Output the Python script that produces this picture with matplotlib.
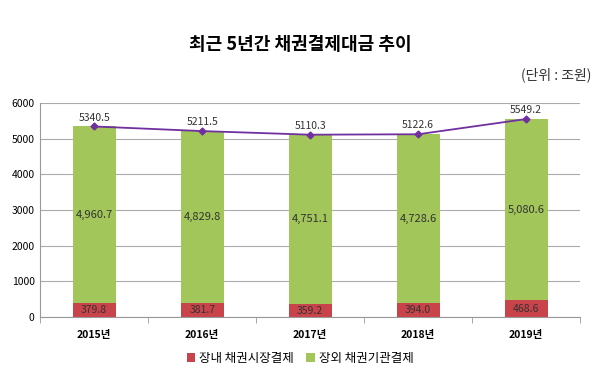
import matplotlib.pyplot as plt
import numpy as np

plt.rcParams['font.family'] = ['Noto Sans CJK KR', 'DejaVu Sans']

years = ["2015년", "2016년", "2017년", "2018년", "2019년"]
on_market = [379.8, 381.7, 359.2, 394.0, 468.6]
off_market = [4960.7, 4829.8, 4751.1, 4728.6, 5080.6]
totals = [5340.5, 5211.5, 5110.3, 5122.6, 5549.2]

RED = "#C9444A"
GREEN = "#A2C65A"
PURPLE = "#7030A0"

fig = plt.figure(figsize=(6.0, 3.73), dpi=100)
ax = fig.add_axes([0.067, 0.150, 0.900, 0.574])

x = np.arange(len(years))
w = 0.4
ax.bar(x, on_market, width=w, color=RED, label="장내 채권시장결제", zorder=2)
ax.bar(x, off_market, width=w, bottom=on_market, color=GREEN, label="장외 채권기관결제", zorder=2)
ax.plot(x, totals, color=PURPLE, lw=1.3, marker="D", ms=3.5, zorder=3)

for i in range(len(years)):
    ax.text(x[i], on_market[i] / 2, f"{on_market[i]:,.1f}", ha="center", va="center",
            fontsize=7.5, color="#333333", zorder=4)
    ax.text(x[i], on_market[i] + off_market[i] / 2, f"{off_market[i]:,.1f}", ha="center",
            va="center", fontsize=8, color="#333333", zorder=4)
    ax.text(x[i], totals[i] + 110, f"{totals[i]:.1f}", ha="center", va="bottom",
            fontsize=7.5, color="#333333", zorder=4)

ax.set_xlim(-0.5, 4.5)
ax.set_ylim(0, 6000)
ax.set_yticks(range(0, 6001, 1000))
ax.tick_params(axis="y", labelsize=7.5, length=0, pad=4)
ax.set_xticks(x)
ax.set_xticklabels(years, fontsize=7.5, fontweight="bold")
ax.tick_params(axis="x", length=0, pad=9)
ax.set_xticks(np.arange(-0.5, 5.0, 1.0), minor=True)
ax.tick_params(axis="x", which="minor", length=4, color="#999999")
ax.grid(axis="y", color="#AAAAAA", lw=0.8, zorder=0)
for s in ["top", "right"]:
    ax.spines[s].set_visible(False)
ax.spines["left"].set_color("#999999")
ax.spines["bottom"].set_color("#999999")

fig.text(0.50, 0.88, "최근 5년간 채권결제대금 추이", ha="center", va="center",
         fontsize=13, fontweight="bold")
fig.text(0.985, 0.80, "(단위 : 조원)", ha="right", va="center", fontsize=10, color="#333333")

fig.legend(loc="center", bbox_to_anchor=(0.50, 0.04), ncol=2, frameon=False, fontsize=9,
           handlelength=0.7, handleheight=0.7, handletextpad=0.3, columnspacing=1.0)

fig.savefig("out.png", dpi=100)
